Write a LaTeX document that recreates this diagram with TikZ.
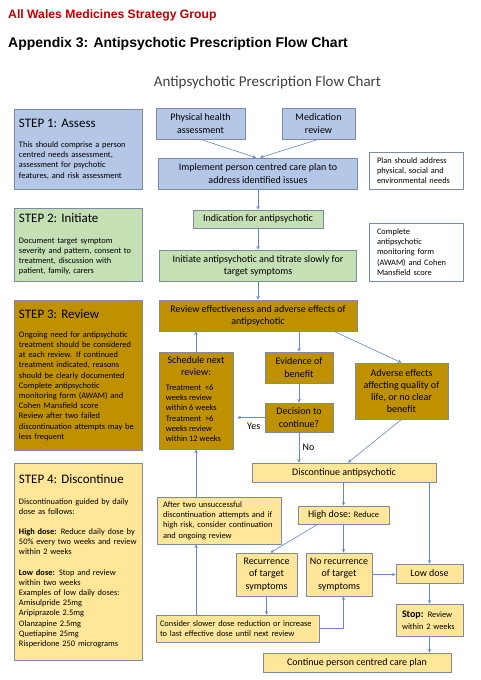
\documentclass[tikz,border=0pt]{standalone}
\usepackage{fontspec}
\setmainfont{Carlito}
\newfontfamily\arialfont{Liberation Sans}
\usetikzlibrary{arrows, positioning}

\definecolor{assessblue}{RGB}{180,199,231}
\definecolor{initgreen}{RGB}{197,224,180}
\definecolor{reviewgold}{RGB}{191,144,0}
\definecolor{stopyellow}{RGB}{255,230,153}
\definecolor{boxline}{RGB}{125,138,160}
\definecolor{arrowblue}{RGB}{100,135,200}
\definecolor{awmsgred}{RGB}{192,0,0}

\tikzset{
    box/.style={draw=boxline, line width=0.7pt, inner sep=2pt, align=center, font=\fontsize{10}{12.2}\selectfont},
    bluebox/.style={box, fill=assessblue},
    greenbox/.style={box, fill=initgreen},
    goldbox/.style={box, fill=reviewgold},
    yellowbox/.style={box, fill=stopyellow},
    yellownote/.style={yellowbox, align=left, inner xsep=6pt, font=\fontsize{8.4}{10.3}\selectfont},
    notebox/.style={box, fill=white, align=left, inner xsep=8pt, text width=78pt, font=\fontsize{8.4}{10.2}\selectfont},
    smalltext/.style={align=left, inner sep=0pt, font=\fontsize{8.4}{10.2}\selectfont},
    stepbox/.style={draw=boxline, line width=0.7pt, inner xsep=5pt, align=left, text width=118pt, font=\fontsize{8.4}{10.2}\selectfont},
    arrow/.style={->, >=stealth, line width=0.6pt, draw=arrowblue}
}

\begin{document}
\begin{tikzpicture}[x=1pt, y=-1pt]

        \path[use as bounding box, fill=white] (0,0) rectangle (480,680);

        % Titles
        \node (awmsg) [anchor=west, inner sep=0pt, text=awmsgred, font=\arialfont\bfseries\fontsize{12.2}{14}\selectfont] at (8,15) {All Wales Medicines Strategy Group};
        \node (appendix) [anchor=west, inner sep=0pt, font=\arialfont\bfseries\fontsize{14}{16}\selectfont] at (8,44) {Appendix 3: Antipsychotic Prescription Flow Chart};
        \node (charttitle) [inner sep=0pt, text=black!75, font=\fontsize{15}{18}\selectfont] at (267.5,83) {Antipsychotic Prescription Flow Chart};

        % Step column
        \node (step1) [stepbox, fill=assessblue, minimum height=80pt] at (78,149) {{\fontsize{13}{15}\selectfont STEP 1: Assess}\\[10pt]This should comprise a person\\centred needs assessment,\\assessment for psychotic\\features, and risk assessment};
        \node (step2) [stepbox, fill=initgreen, minimum height=73pt] at (78,244.5) {{\fontsize{13}{15}\selectfont STEP 2: Initiate}\\[10pt]Document target symptom\\severity and pattern, consent to\\treatment, discussion with\\patient, family, carers};
        \node (step3) [stepbox, fill=reviewgold, minimum height=150pt] at (78,375) {{\fontsize{13}{15}\selectfont STEP 3: Review}\\[9pt]Ongoing need for antipsychotic\\treatment should be considered\\at each review. If continued\\treatment indicated, reasons\\should be clearly documented\\Complete antipsychotic\\monitoring form (AWAM) and\\Cohen Mansfield score\\Review after two failed\\discontinuation attempts may be\\less frequent};
        \node (step4) [stepbox, fill=stopyellow, minimum height=197pt] at (78,561.5) {{\fontsize{13}{15}\selectfont STEP 4: Discontinue}\\[10pt]Discontinuation guided by daily\\dose as follows:\\[10pt]\textbf{High dose:} Reduce daily dose by\\50\% every two weeks and review\\within 2 weeks\\[10pt]\textbf{Low dose:} Stop and review\\within two weeks\\Examples of low daily doses:\\Amisulpride 25mg\\Aripiprazole 2.5mg\\Olanzapine 2.5mg\\Quetiapine 25mg\\Risperidone 250 micrograms};

        % Assess and initiate
        \node (phys) [bluebox, minimum width=89pt, minimum height=31pt] at (200.5,123.5) {Physical health\\assessment};
        \node (medrev) [bluebox, minimum width=73pt, minimum height=31pt] at (318.5,123.5) {Medication\\review};
        \node (implement) [bluebox, minimum width=199pt, minimum height=31pt] at (258,173.5) {Implement person centred care plan to\\address identified issues};
        \node (plannote) [notebox, minimum height=37pt] at (416,170.5) {Plan should address\\physical, social and\\environmental needs};
        \node (indication) [greenbox, minimum width=130pt, minimum height=18pt] at (258,219) {Indication for antipsychotic};
        \node (awamnote) [notebox, minimum height=58pt] at (416,252) {Complete\\antipsychotic\\monitoring form\\(AWAM) and Cohen\\Mansfield score};
        \node (initiate) [greenbox, minimum width=197pt, minimum height=31pt] at (258,265.5) {Initiate antipsychotic and titrate slowly for\\target symptoms};

        % Review
        \node (review) [goldbox, minimum width=198pt, minimum height=31pt] at (258,315.5) {Review effectiveness and adverse effects of\\antipsychotic};
        \node (schedule) [goldbox, minimum width=74pt, minimum height=97pt] at (196,400.5) {};
        \node (schedhead) [anchor=north, inner sep=0pt, align=center, font=\fontsize{10}{12.2}\selectfont] at ([yshift=-5pt]schedule.north) {Schedule next\\review:};
        \node (schedbody) [smalltext, anchor=north west] at ([shift={(7pt,-33pt)}]schedule.north west) {Treatment~~<6\\weeks review\\within 6 weeks\\Treatment~~>6\\weeks review\\within 12 weeks};
        \node (evidence) [goldbox, minimum width=68pt, minimum height=31pt] at (299,367.5) {Evidence of\\benefit};
        \node (decision) [goldbox, minimum width=68pt, minimum height=29pt] at (299,417.5) {Decision to\\continue?};
        \node (adverse) [goldbox, minimum width=93pt, minimum height=56pt] at (401.5,391) {Adverse effects\\affecting quality of\\life, or no clear\\benefit};

        % Discontinue
        \node (discont) [yellowbox, minimum width=184pt, minimum height=19pt] at (344,472.5) {Discontinue antipsychotic};
        \node (highdose) [yellowbox, minimum width=91pt, minimum height=18pt] at (343.5,515) {High dose: {\fontsize{8.4}{10}\selectfont Reduce}};
        \node (aftertwo) [yellownote, text width=112pt, minimum height=47pt] at (219,520.5) {After two unsuccessful\\discontinuation attempts and if\\high risk, consider continuation\\and ongoing review};
        \node (recur) [yellowbox, minimum width=61pt, minimum height=43pt] at (266.5,574.5) {Recurrence\\of target\\symptoms};
        \node (norecur) [yellowbox, minimum width=66pt, minimum height=43pt] at (339,574.5) {No recurrence\\of target\\symptoms};
        \node (lowdose) [yellowbox, minimum width=67pt, minimum height=19pt] at (429.5,573.5) {Low dose};
        \node (stop) [yellownote, text width=55pt, minimum height=32pt] at (429.5,620) {{\fontsize{10}{12}\selectfont\bfseries Stop:} Review\\[1.5pt]within 2 weeks};
        \node (slower) [yellownote, inner xsep=4pt, text width=155pt, minimum height=27pt] at (237.5,628.5) {Consider slower dose reduction or increase\\to last effective dose until next review};
        \node (careplan) [yellowbox, minimum width=188pt, minimum height=19pt] at (357,662.5) {Continue person centred care plan};

        % Connectors
        \draw [arrow] (phys.south) -- ([xshift=-2pt]implement.north);
        \draw [arrow] (medrev.south) -- ([xshift=2pt]implement.north);
        \draw [arrow] (implement) -- (indication);
        \draw [arrow] (indication) -- (initiate);
        \draw [arrow] (initiate) -- (review);
        \draw [arrow] (review.south -| evidence) -- (evidence.north);
        \draw [arrow] ([xshift=76pt]review.south) -- (adverse.north);
        \draw [arrow] (evidence) -- (decision);
        \draw [arrow] (decision.west) -- ([xshift=4pt]decision.west -| schedule.east) node [pos=0.4, below, yshift=-2pt, font=\fontsize{10}{12}\selectfont] {Yes};
        \draw [arrow] (decision) -- (decision |- discont.north) node [pos=0.5, right, font=\fontsize{10}{12}\selectfont] {No};
        \draw [arrow] (adverse.south) -- ([xshift=4pt]discont.north);
        \draw [arrow] (schedule) -- (schedule |- review.south);
        \draw [arrow] (schedule |- aftertwo.north) -- (schedule.south);
        \draw [arrow] (schedule |- slower.north) -- (schedule |- aftertwo.south);
        \draw [arrow] (discont.south -| highdose) -- (highdose.north);
        \draw [arrow] (discont.south -| lowdose) -- (lowdose.north);
        \draw [arrow] ([xshift=-26pt]highdose.south) -- ([xshift=4pt]recur.north);
        \draw [arrow] (highdose.south) -- (highdose.south |- norecur.north);
        \draw [arrow] (norecur.east) -- (norecur.east -| lowdose.west);
        \draw [arrow] (recur.south) -- (recur.south |- slower.north);
        \draw [arrow] (slower.east) -| (highdose.south |- norecur.south);
        \draw [arrow] (lowdose) -- (stop);
        \draw [arrow] (stop.south) -- (stop.south |- careplan.north);

\end{tikzpicture}
\end{document}
